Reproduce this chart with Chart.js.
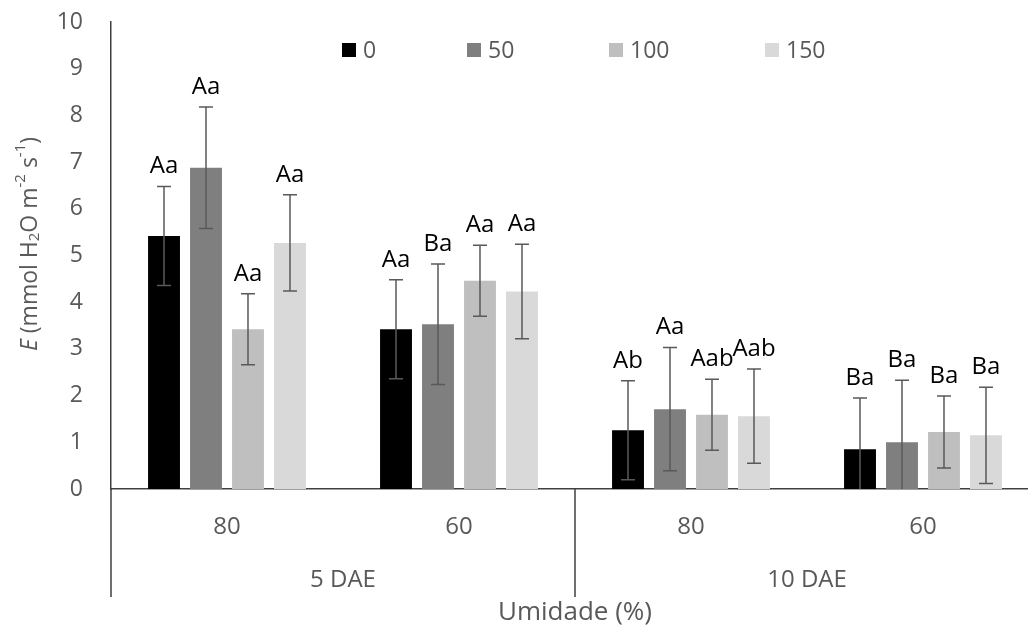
<!DOCTYPE html>
<html>
<head>
<meta charset="utf-8">
<title>Transpiração</title>
<script src="https://cdn.jsdelivr.net/npm/chart.js@4.4.1/dist/chart.umd.min.js"></script>
<style>
    html, body { margin: 0; padding: 0; background: #fff; overflow: hidden; }
    #wrap { width: 1050px; height: 637px; }
</style>
</head>
<body>
<div id="wrap"><canvas id="chart" width="1050" height="637"></canvas></div>
<script>
// Data
const umidade = ['80', '60', '80', '60'];
const epocas = ['5 DAE', '10 DAE'];
const doses = ['0', '50', '100', '150'];

const valores0   = [5.42, 3.42, 1.26, 0.85];
const valores50  = [6.88, 3.53, 1.71, 1.00];
const valores100 = [3.42, 4.46, 1.59, 1.22];
const valores150 = [5.27, 4.23, 1.56, 1.15];

const erro0   = [1.06, 1.06, 1.06, 1.10];
const erro50  = [1.30, 1.29, 1.32, 1.33];
const erro100 = [0.76, 0.76, 0.76, 0.77];
const erro150 = [1.03, 1.01, 1.01, 1.03];

const letras0   = ['Aa', 'Aa', 'Ab', 'Ba'];
const letras50  = ['Aa', 'Ba', 'Aa', 'Ba'];
const letras100 = ['Aa', 'Aa', 'Aab', 'Ba'];
const letras150 = ['Aa', 'Aa', 'Aab', 'Ba'];

const yTicks = [0, 1, 2, 3, 4, 5, 6, 7, 8, 9, 10];

const cores = ['#000000', '#7f7f7f', '#bfbfbf', '#d9d9d9'];
const FONT = "'Open Sans', 'Noto Sans', sans-serif";
const GREY = '#595959';

const series = [
    { values: valores0, err: erro0, letters: letras0 },
    { values: valores50, err: erro50, letters: letras50 },
    { values: valores100, err: erro100, letters: letras100 },
    { values: valores150, err: erro150, letters: letras150 }
];

// Error bars + significance letters
const errorBarPlugin = {
    id: 'errorBars',
    afterDatasetsDraw(chart) {
        const ctx = chart.ctx;
        const yScale = chart.scales.y;
        ctx.save();
        chart.data.datasets.forEach((ds, di) => {
            const meta = chart.getDatasetMeta(di);
            meta.data.forEach((bar, i) => {
                const v = ds.data[i];
                const e = ds.errors[i];
                const x = bar.x;
                const yTop = yScale.getPixelForValue(v + e);
                const yBot = yScale.getPixelForValue(Math.max(0, v - e));
                ctx.strokeStyle = GREY;
                ctx.lineWidth = 1.5;
                ctx.beginPath();
                ctx.moveTo(x, yTop);
                ctx.lineTo(x, yBot);
                ctx.moveTo(x - 7, yTop);
                ctx.lineTo(x + 7, yTop);
                if (v - e > 0) {
                    ctx.moveTo(x - 7, yBot);
                    ctx.lineTo(x + 7, yBot);
                }
                ctx.stroke();

                ctx.fillStyle = '#000';
                ctx.font = '24px ' + FONT;
                ctx.textAlign = 'center';
                ctx.textBaseline = 'alphabetic';
                ctx.fillText(ds.letters[i], x, yTop - 13);
            });
        });
        ctx.restore();
    }
};

// Group labels, separators, legend, y title
const decorPlugin = {
    id: 'decor',
    afterDraw(chart) {
        const ctx = chart.ctx;
        const xs = chart.scales.x;
        const area = chart.chartArea;
        const catW = (area.right - area.left) / umidade.length;
        ctx.save();

        // separators under the axis
        ctx.strokeStyle = '#404040';
        ctx.lineWidth = 1.5;
        ctx.beginPath();
        for (let g = 0; g <= epocas.length; g++) {
            const x = area.left + g * 2 * catW;
            ctx.moveTo(x, area.bottom);
            ctx.lineTo(x, 597);
        }
        ctx.stroke();

        // group labels
        ctx.fillStyle = GREY;
        ctx.font = '24px ' + FONT;
        ctx.textAlign = 'center';
        ctx.textBaseline = 'middle';
        epocas.forEach((lab, g) => {
            const x = (xs.getPixelForValue(g * 2) + xs.getPixelForValue(g * 2 + 1)) / 2;
            ctx.fillText(lab, x, 580);
        });

        // legend
        const legendX = [342, 467, 609, 765];
        ctx.font = '23px ' + FONT;
        ctx.textAlign = 'left';
        ctx.textBaseline = 'middle';
        doses.forEach((d, i) => {
            ctx.fillStyle = cores[i];
            ctx.fillRect(legendX[i], 43, 14, 14);
            ctx.fillStyle = GREY;
            ctx.fillText(d, legendX[i] + 21, 51);
        });

        // y axis title with sub/superscripts
        const parts = [
            { t: 'E', size: 23, style: 'italic ', dy: 0 },
            { t: ' (mmol H', size: 23, style: '', dy: 0 },
            { t: '2', size: 15, style: '', dy: 5 },
            { t: 'O m', size: 23, style: '', dy: 0 },
            { t: '-2', size: 15, style: '', dy: -9 },
            { t: ' s', size: 23, style: '', dy: 0 },
            { t: '-1', size: 15, style: '', dy: -9 },
            { t: ')', size: 23, style: '', dy: 0 }
        ];
        let total = 0;
        parts.forEach(p => {
            ctx.font = p.style + p.size + 'px ' + FONT;
            p.w = ctx.measureText(p.t).width;
            total += p.w;
        });
        ctx.translate(30, 244);
        ctx.rotate(-Math.PI / 2);
        ctx.fillStyle = GREY;
        ctx.textAlign = 'left';
        ctx.textBaseline = 'middle';
        let cx = -total / 2;
        parts.forEach(p => {
            ctx.font = p.style + p.size + 'px ' + FONT;
            ctx.fillText(p.t, cx, p.dy);
            cx += p.w;
        });
        ctx.restore();
    }
};

const ctx = document.getElementById('chart').getContext('2d');

new Chart(ctx, {
    type: 'bar',
    data: {
        labels: umidade,
        datasets: series.map((s, i) => ({
            label: doses[i],
            data: s.values,
            errors: s.err,
            letters: s.letters,
            backgroundColor: cores[i],
            borderWidth: 0,
            categoryPercentage: 0.724,
            barPercentage: 0.76
        }))
    },
    options: {
        responsive: false,
        animation: false,
        devicePixelRatio: 1,
        layout: {
            padding: { top: 22, right: 11, left: 0, bottom: 0 }
        },
        plugins: {
            legend: { display: false },
            tooltip: { enabled: false }
        },
        scales: {
            x: {
                grid: { display: false, drawTicks: false },
                border: { display: true, color: '#404040', width: 1.5 },
                ticks: {
                    color: GREY,
                    font: { family: FONT, size: 24 },
                    padding: 24
                },
                title: {
                    display: true,
                    text: 'Umidade (%)',
                    color: GREY,
                    font: { family: FONT, size: 26 },
                    padding: { top: 4, bottom: 9 }
                },
                afterFit(scale) {
                    scale.height = 148;
                    scale.paddingLeft = 0;
                    scale.paddingRight = 0;
                }
            },
            y: {
                min: 0,
                max: 10,
                grid: { display: false, drawTicks: false },
                border: { display: true, color: '#404040', width: 1.5 },
                afterBuildTicks(scale) {
                    scale.ticks = yTicks.map(v => ({ value: v }));
                },
                ticks: {
                    color: GREY,
                    font: { family: FONT, size: 23 },
                    padding: 28
                },
                afterFit(scale) {
                    scale.width = 111;
                    scale.paddingTop = 0;
                    scale.paddingBottom = 0;
                }
            }
        }
    },
    plugins: [errorBarPlugin, decorPlugin]
});
</script>
</body>
</html>
